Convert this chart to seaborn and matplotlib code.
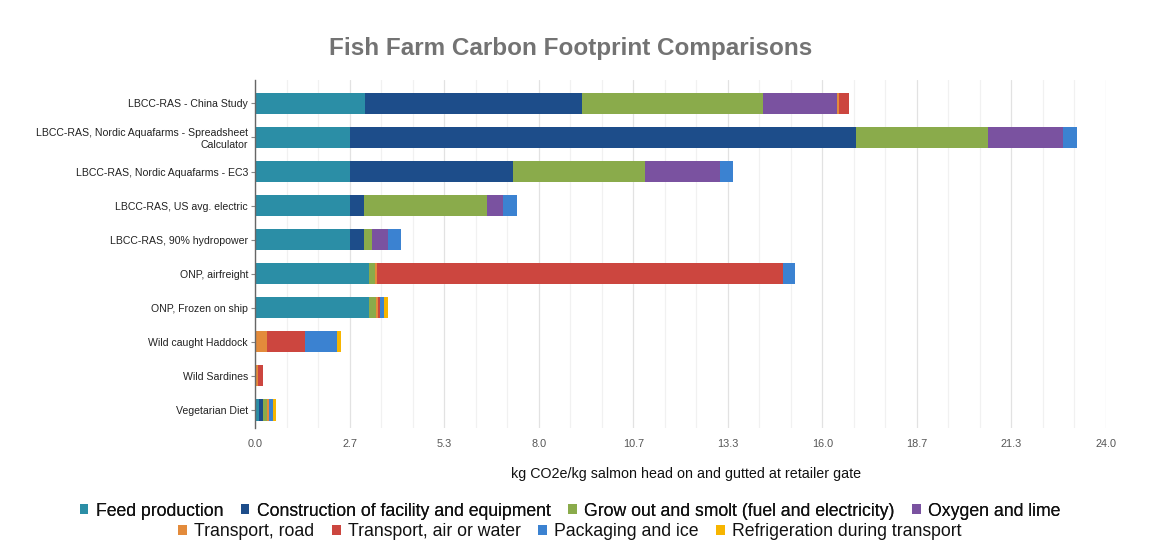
import numpy as np
import pandas as pd
import matplotlib
matplotlib.use("Agg")
import matplotlib.pyplot as plt
from matplotlib.patches import Patch
import seaborn as sns

# Scenarios (top to bottom)
categories = [
    "LBCC-RAS - China Study",
    "LBCC-RAS, Nordic Aquafarms - Spreadsheet\nCalculator",
    "LBCC-RAS, Nordic Aquafarms - EC3",
    "LBCC-RAS, US avg. electric",
    "LBCC-RAS, 90% hydropower",
    "ONP, airfreight",
    "ONP, Frozen on ship",
    "Wild caught Haddock",
    "Wild Sardines",
    "Vegetarian Diet",
]

# Emission components, kg CO2e per kg salmon
feed_production = [3.09, 2.68, 2.68, 2.68, 2.68, 3.22, 3.22, 0.00, 0.00, 0.10]
construction = [6.12, 14.28, 4.59, 0.38, 0.38, 0.00, 0.00, 0.00, 0.00, 0.12]
grow_out = [5.13, 3.71, 3.73, 3.48, 0.23, 0.17, 0.19, 0.00, 0.00, 0.12]
oxygen_lime = [2.07, 2.11, 2.10, 0.45, 0.45, 0.00, 0.00, 0.00, 0.00, 0.00]
transport_road = [0.06, 0.00, 0.00, 0.00, 0.00, 0.05, 0.05, 0.35, 0.08, 0.05]
transport_air_water = [0.27, 0.00, 0.00, 0.00, 0.00, 11.45, 0.06, 1.05, 0.14, 0.00]
packaging_ice = [0.00, 0.40, 0.39, 0.40, 0.38, 0.35, 0.11, 0.90, 0.00, 0.12]
refrigeration = [0.00, 0.00, 0.00, 0.00, 0.00, 0.00, 0.11, 0.12, 0.00, 0.08]

series_names = [
    "Feed production",
    "Construction of facility and equipment",
    "Grow out and smolt (fuel and electricity)",
    "Oxygen and lime",
    "Transport, road",
    "Transport, air or water",
    "Packaging and ice",
    "Refrigeration during transport",
]
series_values = [
    feed_production, construction, grow_out, oxygen_lime,
    transport_road, transport_air_water, packaging_ice, refrigeration,
]
series_colors = [
    "#2b8ea6", "#1d4d8a", "#8aab4b", "#7a52a0",
    "#e38b3b", "#cc463f", "#3b82d1", "#f7b500",
]

x_max = 24.0
x_ticks = np.linspace(0, x_max, 10)

sns.set_theme(style="white")
plt.rcParams["font.family"] = ["Liberation Sans", "DejaVu Sans"]

fig = plt.figure(figsize=(11.69, 5.43), dpi=100)
ax = fig.add_axes([255 / 1169, 1 - 428 / 543, (1106 - 255) / 1169, (428 - 80) / 543])

df = pd.DataFrame({name: vals for name, vals in zip(series_names, series_values)})
df["scenario"] = categories
cumulative = df[series_names].cumsum(axis=1)

# Stacked bars: draw cumulative totals from the outermost segment inwards
for name, color in reversed(list(zip(series_names, series_colors))):
    sns.barplot(
        x=cumulative[name], y=df["scenario"], orient="h", color=color,
        saturation=1, width=0.64, linewidth=0, ax=ax, order=categories,
    )

ax.set_xlim(0, x_max)
ax.set_ylim(9.54, -0.69)
ax.set_xticks(x_ticks)
ax.set_xticklabels([f"{t:.1f}" for t in x_ticks])
ax.set_xticks(np.linspace(0, x_max, 28), minor=True)
ax.grid(axis="x", which="major", color="#e2e2e2", linewidth=0.9)
ax.grid(axis="x", which="minor", color="#f1f1f1", linewidth=0.9)
ax.grid(axis="y", visible=False)
ax.set_axisbelow(True)

for side in ("top", "right", "bottom"):
    ax.spines[side].set_visible(False)
ax.spines["left"].set_color("#666666")
ax.spines["left"].set_linewidth(1.0)

ax.set_xlabel("")
ax.set_ylabel("")
ax.tick_params(axis="y", which="both", left=True, length=3, width=0.8,
               color="#888888", pad=2, labelsize=7.6, labelcolor="#222222")
ax.tick_params(axis="x", which="both", bottom=False, length=0, pad=8,
               labelsize=7.8, labelcolor="#555555")

fig.text(571 / 1169, 1 - 48 / 543, "Fish Farm Carbon Footprint Comparisons",
         ha="center", va="center", fontsize=17.5, fontweight="bold", color="#737373")
fig.text(686 / 1169, 1 - 474 / 543,
         "kg CO2e/kg salmon head on and gutted at retailer gate",
         ha="center", va="center", fontsize=10.3, color="#111111")

# Two-row legend, each row centred independently
handles = [Patch(facecolor=c, edgecolor="none") for c in series_colors]
legend_kw = dict(frameon=False, fontsize=12.7, handlelength=0.5, handleheight=0.5,
                 handletextpad=0.4, columnspacing=1.0, borderpad=0, labelcolor="#111111")
leg1 = fig.legend(handles[:4], series_names[:4], ncol=4, loc="center",
                  bbox_to_anchor=(570 / 1169, 1 - 511 / 543), **legend_kw)
fig.add_artist(leg1)
fig.legend(handles[4:], series_names[4:], ncol=4, loc="center",
           bbox_to_anchor=(570 / 1169, 1 - 532 / 543), **legend_kw)

fig.savefig("out.png", dpi=100, facecolor="white")
